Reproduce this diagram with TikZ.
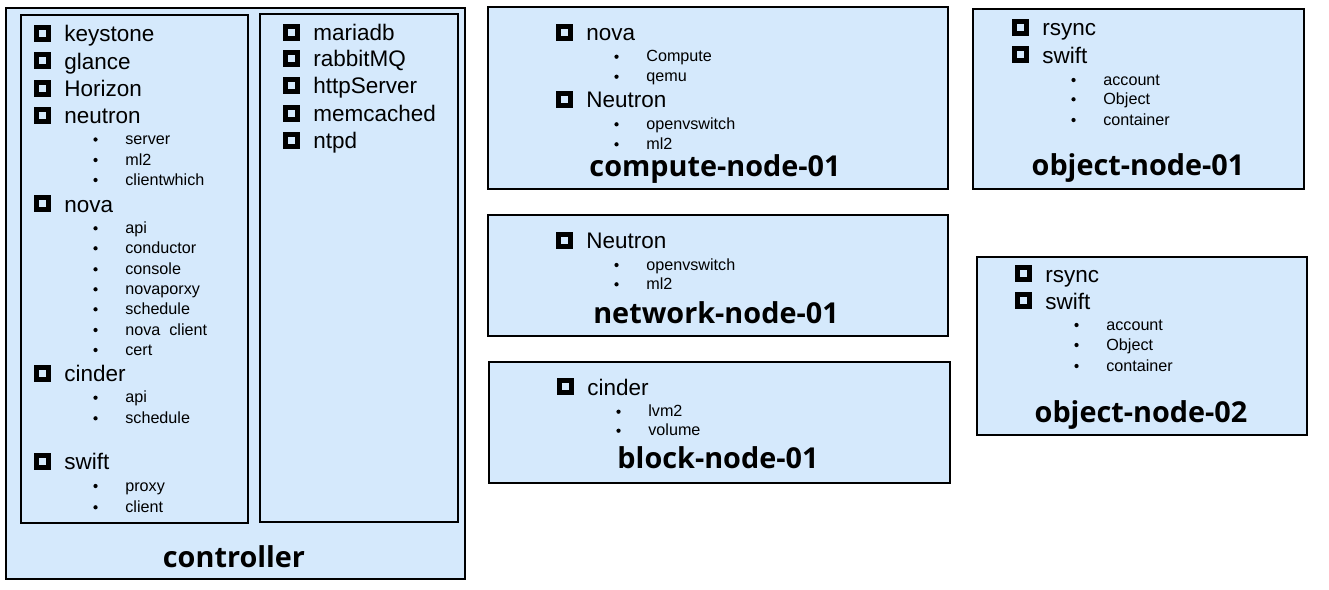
\documentclass[tikz,border=0pt]{standalone}
\usepackage{fontspec}
\setmainfont{Liberation Sans}
\newfontfamily\headfont{Open Sans}
\usetikzlibrary{fit}
\definecolor{boxblue}{RGB}{213,233,252}

\begin{document}
\begin{tikzpicture}[x=0.02cm,y=-0.02cm,
  box node/.style={draw,fill=boxblue,line width=0.8pt,inner sep=0pt},
  pane node/.style={draw,line width=0.8pt,inner sep=0pt},
  tick node/.style={draw,line width=0.1cm,inner sep=0pt,minimum size=0.24cm},
  dot node/.style={circle,fill=black,inner sep=0pt,minimum size=0.085cm},
  item node/.style={anchor=west,inner sep=0pt,text height=10.7pt,text depth=1pt,
        font=\fontsize{12.8}{14}\selectfont,label={[tick node,label distance=0.26cm]left:{}}},
  sub node/.style={anchor=west,inner sep=0pt,text height=7.2pt,text depth=1.5pt,
        font=\fontsize{9.2}{11}\selectfont,label={[dot node,label distance=0.54cm]left:{}}},
  title node/.style={anchor=base,inner sep=0pt,font=\headfont\bfseries\fontsize{16.4}{18}\selectfont}]
  \useasboundingbox[fill=white] (0,0) rectangle (1329,589);

  % boxes
  \node[box node,fit={(6,8) (465,579)}] (ctrl) {};
  \node[pane node,fit={(21,15) (248,523)}] (ctrl-left) {};
  \node[pane node,fit={(260,14) (458,522)}] (ctrl-right) {};
  \node[box node,fit={(488,7) (948,189)}] (compute) {};
  \node[box node,fit={(488,215) (948,336)}] (network) {};
  \node[box node,fit={(489,362) (950,483)}] (block) {};
  \node[box node,fit={(973,9) (1304,189)}] (object1) {};
  \node[box node,fit={(977,257) (1307,435)}] (object2) {};

  % controller
  \node[item node] (c-keystone) at (64,33.3) {keystone};
  \node[item node] (c-glance) at (64,60.5) {glance};
  \node[item node] (c-horizon) at (64,88) {Horizon};
  \node[item node] (c-neutron) at (64,115.3) {neutron};
  \node[sub node] (c-server) at (125,139.5) {server};
  \node[sub node] (c-ml2) at (125,160) {ml2};
  \node[sub node] (c-client) at (125,180) {clientwhich};
  \node[item node] (c-nova) at (64,203.7) {nova};
  \node[sub node] (c-api) at (125,228.3) {api};
  \node[sub node] (c-conductor) at (125,248.3) {conductor};
  \node[sub node] (c-console) at (125,269.3) {console};
  \node[sub node] (c-proxy) at (125,289.3) {novaporxy};
  \node[sub node] (c-schedule) at (125,309.3) {schedule};
  \node[sub node] (c-novaclient) at (125,330) {nova\ \ client};
  \node[sub node] (c-cert) at (125,350) {cert};
  \node[item node] (c-cinder) at (64,373.3) {cinder};
  \node[sub node] (c-capi) at (125,397.7) {api};
  \node[sub node] (c-cschedule) at (125,418.3) {schedule};
  \node[item node] (c-swift) at (64,461.3) {swift};
  \node[sub node] (c-sproxy) at (125,486) {proxy};
  \node[sub node] (c-sclient) at (125,507.3) {client};
  \node[item node] (c-mariadb) at (313,32) {mariadb};
  \node[item node] (c-rabbit) at (313,58.3) {rabbitMQ};
  \node[item node] (c-http) at (313,85) {httpServer};
  \node[item node] (c-memcached) at (313,113.3) {memcached};
  \node[item node] (c-ntpd) at (313,140) {ntpd};
  \node[title node] (ctrl-title) at (234,567) {controller};

  % compute-node-01
  \node[item node] (m-nova) at (586,32) {nova};
  \node[sub node] (m-compute) at (646,56.7) {Compute};
  \node[sub node] (m-qemu) at (646,76.7) {qemu};
  \node[item node] (m-neutron) at (586,99.3) {Neutron};
  \node[sub node] (m-ovs) at (646,124.3) {openvswitch};
  \node[sub node] (m-ml2) at (646,144.3) {ml2};
  \node[title node] (compute-title) at (715,176) {compute-node-01};

  % network-node-01
  \node[item node] (n-neutron) at (586,240) {Neutron};
  \node[sub node] (n-ovs) at (646,265) {openvswitch};
  \node[sub node] (n-ml2) at (646,284.3) {ml2};
  \node[title node] (network-title) at (716,323) {network-node-01};

  % block-node-01
  \node[item node] (b-cinder) at (587,386.7) {cinder};
  \node[sub node] (b-lvm) at (648,411.7) {lvm2};
  \node[sub node] (b-volume) at (648,430.7) {volume};
  \node[title node] (block-title) at (718,468) {block-node-01};

  % object-node-01
  \node[item node] (o-rsync) at (1042,27.3) {rsync};
  \node[item node] (o-swift) at (1042,54.7) {swift};
  \node[sub node] (o-account) at (1103,80) {account};
  \node[sub node] (o-object) at (1103,99.3) {Object};
  \node[sub node] (o-container) at (1103,120) {container};
  \node[title node] (object1-title) at (1138,175) {object-node-01};

  % object-node-02
  \node[item node] (p-rsync) at (1045,273.7) {rsync};
  \node[item node] (p-swift) at (1045,300.7) {swift};
  \node[sub node] (p-account) at (1106,325) {account};
  \node[sub node] (p-object) at (1106,345) {Object};
  \node[sub node] (p-container) at (1106,366) {container};
  \node[title node] (object2-title) at (1141,422) {object-node-02};
\end{tikzpicture}
\end{document}
